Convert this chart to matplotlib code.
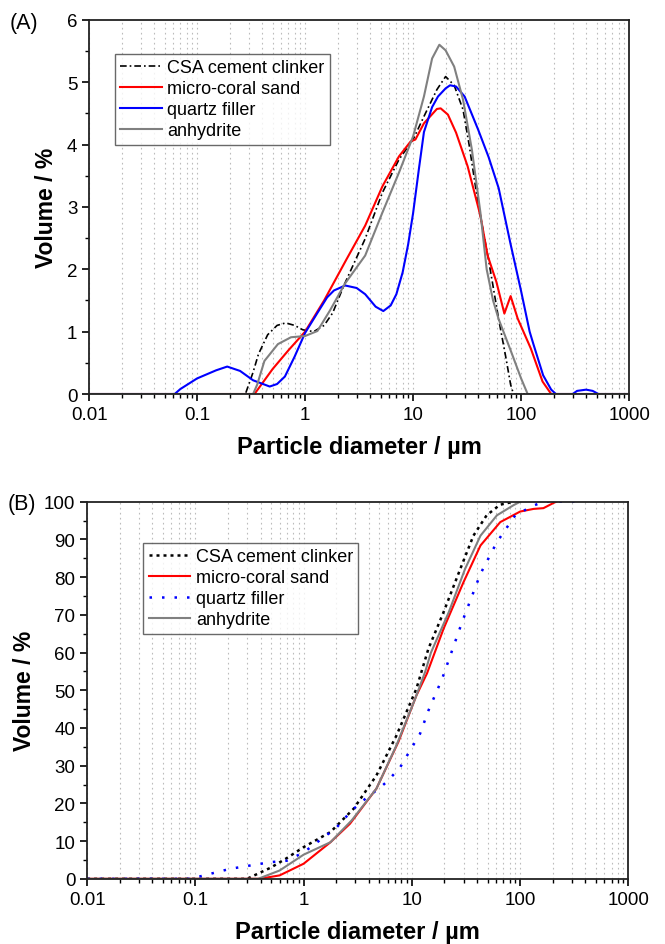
import numpy as np
import matplotlib
matplotlib.use("Agg")
import matplotlib.pyplot as plt
from matplotlib import ticker

plt.rcParams['font.family'] = ['Liberation Sans', 'DejaVu Sans']

labels = ["CSA cement clinker", "micro-coral sand", "quartz filler", "anhydrite"]

# (A) differential distribution
csa_x = [0.01, 0.28, 0.33, 0.37, 0.45, 0.55, 0.66, 0.8, 0.95, 1.2, 1.5, 1.8, 2.3, 3.6, 5.2, 7.4, 10, 12.6, 16.6, 20, 24, 29, 33, 40, 50, 62, 72, 80, 85, 1000]
csa_y = [0, 0, 0.35, 0.64, 0.95, 1.1, 1.14, 1.1, 1.03, 1.0, 1.1, 1.3, 1.75, 2.49, 3.23, 3.76, 4.08, 4.45, 4.88, 5.09, 4.95, 4.56, 4.0, 3.05, 2.15, 1.2, 0.6, 0.15, 0, 0]

red_x = [0.01, 0.34, 0.5, 0.7, 1.0, 1.5, 2.4, 3.6, 5.2, 7.4, 9.5, 10.5, 12.6, 16.6, 18, 21, 25, 32, 42, 49, 59, 70, 80, 93, 123, 158, 190, 1000]
red_y = [0, 0, 0.4, 0.7, 1.0, 1.5, 2.15, 2.7, 3.33, 3.81, 4.05, 4.08, 4.34, 4.57, 4.58, 4.48, 4.19, 3.65, 2.86, 2.22, 1.8, 1.29, 1.57, 1.21, 0.73, 0.2, 0, 0]

blue_x = [0.01, 0.062, 0.07, 0.1, 0.15, 0.19, 0.25, 0.33, 0.47, 0.55, 0.65, 0.8, 1.0, 1.3, 1.6, 1.85, 2.35, 3.0, 3.6, 4.5, 5.3, 6.2, 7, 8, 9, 10, 11.3, 12.6, 15, 17, 20, 22, 25, 30, 40, 50, 62, 80, 100, 120, 130, 160, 190, 210, 300, 330, 400, 460, 520, 1000]
blue_y = [0, 0, 0.08, 0.25, 0.38, 0.44, 0.37, 0.22, 0.12, 0.16, 0.28, 0.6, 0.98, 1.3, 1.55, 1.66, 1.74, 1.7, 1.6, 1.4, 1.33, 1.42, 1.6, 1.95, 2.4, 2.9, 3.6, 4.2, 4.6, 4.77, 4.9, 4.95, 4.93, 4.77, 4.24, 3.8, 3.3, 2.4, 1.65, 1.0, 0.8, 0.3, 0.07, 0, 0, 0.05, 0.07, 0.05, 0, 0]

gray_x = [0.01, 0.33, 0.36, 0.42, 0.56, 0.74, 1.0, 1.3, 1.7, 2.34, 3.6, 5.2, 7.4, 10, 12.6, 15, 17.5, 20, 24, 29, 35, 42, 48, 55, 62, 80, 100, 115, 1000]
gray_y = [0, 0, 0.15, 0.53, 0.8, 0.91, 0.93, 1.01, 1.34, 1.77, 2.22, 2.91, 3.55, 4.13, 4.77, 5.38, 5.6, 5.51, 5.25, 4.72, 3.92, 2.91, 2.0, 1.5, 1.2, 0.7, 0.25, 0, 0]

# (B) cumulative distribution
csa_cx = [0.01, 0.3, 0.5, 0.7, 1.0, 1.77, 2.9, 4.7, 7.2, 11, 14.2, 19.6, 28, 37, 49, 65, 87]
csa_cy = [0, 0, 3, 5.5, 8.4, 12.4, 18.6, 27.4, 38, 50.4, 61, 70.7, 82.2, 91, 96.4, 99.2, 100]

red_cx = [0.01, 0.39, 0.6, 1.0, 1.77, 2.68, 4.7, 7.5, 11, 13.8, 19.6, 30, 43, 65.5, 100, 133, 164, 204, 215]
red_cy = [0, 0, 0.9, 4.0, 9.7, 14.6, 23.9, 36.3, 48.6, 54.5, 66.3, 78.7, 88.4, 94.6, 97.4, 98.1, 98.3, 99.7, 100]

blue_cx = [0.01, 0.09, 0.21, 0.49, 0.7, 1.0, 1.5, 2.0, 2.8, 4.0, 5.0, 6.0, 7.8, 9.6, 11.9, 14.2, 19, 29, 43, 61, 90, 133, 166, 350]
blue_cy = [0, 0, 2.65, 4.4, 4.8, 7.0, 10.8, 13.5, 18.2, 22, 24, 26, 29.6, 34, 38.5, 44.6, 53, 68, 80.9, 89.3, 96.4, 99, 100, 100]

gray_cx = [0.01, 0.38, 0.6, 1.0, 1.77, 2.78, 4.7, 7.2, 10.7, 13.3, 15, 21.9, 31, 43, 61, 87, 100]
gray_cy = [0, 0, 2.2, 6.4, 9.7, 15.5, 23.9, 35.4, 47.7, 55, 60, 70.7, 82.2, 91, 96.4, 99.1, 100]

fig = plt.figure(figsize=(6.65, 9.45), dpi=100)
ax1 = fig.add_axes([0.134, 0.582, 0.812, 0.396])
ax2 = fig.add_axes([0.131, 0.069, 0.814, 0.399])


def style_axis(ax):
    ax.set_xscale('log')
    ax.set_xlim(0.01, 1000)
    ax.xaxis.set_major_locator(ticker.LogLocator(base=10, numticks=10))
    ax.xaxis.set_minor_locator(ticker.LogLocator(base=10, subs=np.arange(2, 10), numticks=10))
    ax.xaxis.set_major_formatter(ticker.FuncFormatter(lambda v, p: f'{v:g}'))
    ax.xaxis.set_minor_formatter(ticker.NullFormatter())
    ax.grid(True, which='both', axis='x', linestyle=(0, (1.5, 3)), color='#bcbcbc', linewidth=0.8)
    ax.tick_params(which='major', direction='out', length=5, width=1.2, labelsize=13.5, top=False, right=False)
    ax.tick_params(which='minor', direction='out', length=3, width=1.0, top=False, right=False)
    for s in ax.spines.values():
        s.set_linewidth(1.3)
        s.set_color('#222222')
    ax.set_xlabel('Particle diameter / µm', fontsize=17, fontweight='bold', labelpad=9)
    ax.set_ylabel('Volume / %', fontsize=16.5, fontweight='bold', labelpad=6)


style_axis(ax1)
ax1.plot(csa_x, csa_y, color='black', lw=1.2, linestyle=(0, (4, 1.8, 1, 1.8)), label=labels[0])
ax1.plot(red_x, red_y, color='#ff0000', lw=1.5, label=labels[1])
ax1.plot(blue_x, blue_y, color='#0000ff', lw=1.5, label=labels[2])
ax1.plot(gray_x, gray_y, color='#808080', lw=1.5, label=labels[3])
ax1.set_ylim(0, 6)
ax1.set_yticks([0, 1, 2, 3, 4, 5, 6])
ax1.yaxis.set_minor_locator(ticker.MultipleLocator(0.5))
leg1 = ax1.legend(loc='upper left', bbox_to_anchor=(0.048, 0.909), fontsize=13, frameon=True,
                  fancybox=False, edgecolor='#444444', handlelength=2.3, handletextpad=0.3,
                  labelspacing=0.22, borderpad=0.3, borderaxespad=0)
leg1.get_frame().set_linewidth(1.0)
fig.text(0.015, 0.975, '(A)', fontsize=15.5, va='center', ha='left')

style_axis(ax2)
ax2.plot(csa_cx, csa_cy, color='black', lw=1.8, linestyle=(0, (1.2, 1.6)), label=labels[0])
ax2.plot(red_cx, red_cy, color='#ff0000', lw=1.5, label=labels[1])
ax2.plot(blue_cx, blue_cy, color='#0000ff', lw=1.8, linestyle=(0, (1, 4)), label=labels[2])
ax2.plot(gray_cx, gray_cy, color='#808080', lw=1.5, label=labels[3])
ax2.set_ylim(0, 100)
ax2.set_yticks(np.arange(0, 101, 10))
ax2.yaxis.set_minor_locator(ticker.MultipleLocator(5))
leg2 = ax2.legend(loc='upper left', bbox_to_anchor=(0.104, 0.891), fontsize=13, frameon=True,
                  fancybox=False, edgecolor='#444444', handlelength=2.3, handletextpad=0.3,
                  labelspacing=0.22, borderpad=0.3, borderaxespad=0)
leg2.get_frame().set_linewidth(1.0)
fig.text(0.012, 0.466, '(B)', fontsize=15.5, va='center', ha='left')

fig.savefig('out.png', dpi=100)
